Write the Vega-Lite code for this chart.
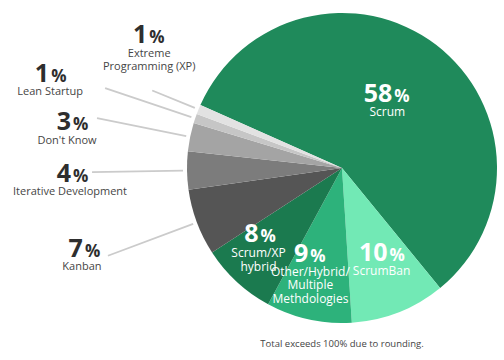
{
  "$schema": "https://vega.github.io/schema/vega-lite/v6.json",
  "width": 324,
  "height": 336,
  "autosize": {"type": "none"},
  "padding": {"left": 180, "top": 0, "right": 0, "bottom": 24},
  "background": "white",
  "config": {"view": {"stroke": null}, "font": "Open Sans", "text": {"font": "Open Sans"}},
  "title": {"text": "Total exceeds 100% due to rounding.", "orient": "bottom", "anchor": "middle", "fontSize": 9.5, "fontWeight": "normal", "color": "#444444", "font": "Open Sans", "offset": -101},
  "data": {"values": [
    {"rank": 1, "method": "Scrum", "pct": 58},
    {"rank": 2, "method": "ScrumBan", "pct": 10},
    {"rank": 3, "method": "Other/Hybrid/\nMultiple\nMethdologies", "pct": 9},
    {"rank": 4, "method": "Scrum/XP\nhybrid", "pct": 8},
    {"rank": 5, "method": "Kanban", "pct": 7},
    {"rank": 6, "method": "Iterative Development", "pct": 4},
    {"rank": 7, "method": "Don't Know", "pct": 3},
    {"rank": 8, "method": "Lean Startup", "pct": 1},
    {"rank": 9, "method": "Extreme\nProgramming (XP)", "pct": 1}
  ]},
  "encoding": {
    "theta": {"field": "pct", "type": "quantitative", "stack": true, "scale": {"range": [5.13127, 11.41445], "nice": false, "zero": true}},
    "order": {"field": "rank", "type": "quantitative", "sort": "ascending"},
    "detail": {"field": "rank", "type": "ordinal"}
  },
  "layer": [
    {"mark": {"type": "arc", "outerRadius": 155},
     "encoding": {"color": {"field": "rank", "type": "ordinal", "legend": null,
       "scale": {"domain": [1,2,3,4,5,6,7,8,9], "range": ["#1f8a5b","#72e9b5","#2db27b","#1b7a4f","#555555","#7c7c7c","#a4a4a4","#c6c6c6","#e2e2e2"]}}}},
    {"transform": [
       {"stack": "pct", "groupby": [], "sort": [{"field": "rank", "order": "ascending"}], "as": ["s0", "s1"]},
       {"filter": "datum.rank >= 5 && datum.rank <= 8"}],
     "mark": {"type": "arc", "innerRadius": 159, "outerRadius": 250, "padAngle": 2, "fill": "transparent", "stroke": "#cbcbcb", "strokeWidth": 1.8},
     "encoding": {"theta": {"field": "s0", "type": "quantitative"}, "theta2": {"field": "s1"}}},
    {"transform": [
       {"stack": "pct", "groupby": [], "sort": [{"field": "rank", "order": "ascending"}], "as": ["s0", "s1"]},
       {"filter": "datum.rank === 9"}],
     "mark": {"type": "arc", "innerRadius": 159, "outerRadius": 205, "padAngle": 2, "fill": "transparent", "stroke": "#cbcbcb", "strokeWidth": 1.8},
     "encoding": {"theta": {"field": "s0", "type": "quantitative"}, "theta2": {"field": "s1"}}},

    {"mark": {"type": "text", "radius": 83, "align": "right", "baseline": "alphabetic", "dx": 0, "dy": 0, "fontSize": 25, "fontWeight": "bold", "color": "#ffffff"},
     "encoding": {"text": {"condition": {"test": "datum.rank === 1", "field": "pct", "type": "quantitative"}, "value": ""}}},
    {"mark": {"type": "text", "radius": 83, "align": "left", "baseline": "alphabetic", "dx": 2, "dy": 0, "fontSize": 17, "fontWeight": "bold", "color": "#ffffff"},
     "encoding": {"text": {"condition": {"test": "datum.rank === 1", "value": "%"}, "value": ""}}},
    {"mark": {"type": "text", "radius": 83, "align": "center", "baseline": "alphabetic", "dx": -5, "dy": 14, "fontSize": 12, "lineBreak": "\n", "lineHeight": 13.5, "color": "#ffffff"},
     "encoding": {"text": {"condition": {"test": "datum.rank === 1", "field": "method", "type": "nominal"}, "value": ""}}},

    {"mark": {"type": "text", "radius": 100, "align": "right", "baseline": "alphabetic", "dx": 9, "dy": 0, "fontSize": 25, "fontWeight": "bold", "color": "#ffffff"},
     "encoding": {"text": {"condition": {"test": "datum.rank === 2", "field": "pct", "type": "quantitative"}, "value": ""}}},
    {"mark": {"type": "text", "radius": 100, "align": "left", "baseline": "alphabetic", "dx": 11, "dy": 0, "fontSize": 17, "fontWeight": "bold", "color": "#ffffff"},
     "encoding": {"text": {"condition": {"test": "datum.rank === 2", "value": "%"}, "value": ""}}},
    {"mark": {"type": "text", "radius": 100, "align": "center", "baseline": "alphabetic", "dx": 3, "dy": 14, "fontSize": 12, "lineBreak": "\n", "lineHeight": 13.5, "color": "#ffffff"},
     "encoding": {"text": {"condition": {"test": "datum.rank === 2", "field": "method", "type": "nominal"}, "value": ""}}},

    {"mark": {"type": "text", "radius": 96, "align": "right", "baseline": "alphabetic", "dx": -13, "dy": 0, "fontSize": 25, "fontWeight": "bold", "color": "#ffffff"},
     "encoding": {"text": {"condition": {"test": "datum.rank === 3", "field": "pct", "type": "quantitative"}, "value": ""}}},
    {"mark": {"type": "text", "radius": 96, "align": "left", "baseline": "alphabetic", "dx": -11, "dy": 0, "fontSize": 17, "fontWeight": "bold", "color": "#ffffff"},
     "encoding": {"text": {"condition": {"test": "datum.rank === 3", "value": "%"}, "value": ""}}},
    {"mark": {"type": "text", "radius": 96, "align": "center", "baseline": "alphabetic", "dx": -11, "dy": 14, "fontSize": 12, "lineBreak": "\n", "lineHeight": 13.5, "color": "#ffffff"},
     "encoding": {"text": {"condition": {"test": "datum.rank === 3", "field": "method", "type": "nominal"}, "value": ""}}},

    {"mark": {"type": "text", "radius": 101, "align": "right", "baseline": "alphabetic", "dx": -15, "dy": 0, "fontSize": 25, "fontWeight": "bold", "color": "#ffffff"},
     "encoding": {"text": {"condition": {"test": "datum.rank === 4", "field": "pct", "type": "quantitative"}, "value": ""}}},
    {"mark": {"type": "text", "radius": 101, "align": "left", "baseline": "alphabetic", "dx": -13, "dy": 0, "fontSize": 17, "fontWeight": "bold", "color": "#ffffff"},
     "encoding": {"text": {"condition": {"test": "datum.rank === 4", "value": "%"}, "value": ""}}},
    {"mark": {"type": "text", "radius": 101, "align": "center", "baseline": "alphabetic", "dx": -15, "dy": 15, "fontSize": 12, "lineBreak": "\n", "lineHeight": 13.5, "color": "#ffffff"},
     "encoding": {"text": {"condition": {"test": "datum.rank === 4", "field": "method", "type": "nominal"}, "value": ""}}},

    {"mark": {"type": "text", "radius": 250, "align": "right", "baseline": "alphabetic", "dx": -25, "dy": 1, "fontSize": 25, "fontWeight": "bold", "color": "#2e2e2e"},
     "encoding": {"text": {"condition": {"test": "datum.rank === 5", "field": "pct", "type": "quantitative"}, "value": ""}}},
    {"mark": {"type": "text", "radius": 250, "align": "left", "baseline": "alphabetic", "dx": -23, "dy": 1, "fontSize": 17, "fontWeight": "bold", "color": "#2e2e2e"},
     "encoding": {"text": {"condition": {"test": "datum.rank === 5", "value": "%"}, "value": ""}}},
    {"mark": {"type": "text", "radius": 250, "align": "center", "baseline": "alphabetic", "dx": -26, "dy": 14, "fontSize": 11, "lineBreak": "\n", "lineHeight": 13, "color": "#454545"},
     "encoding": {"text": {"condition": {"test": "datum.rank === 5", "field": "method", "type": "nominal"}, "value": ""}}},

    {"mark": {"type": "text", "radius": 250, "align": "right", "baseline": "alphabetic", "dx": -21, "dy": 10, "fontSize": 25, "fontWeight": "bold", "color": "#2e2e2e"},
     "encoding": {"text": {"condition": {"test": "datum.rank === 6", "field": "pct", "type": "quantitative"}, "value": ""}}},
    {"mark": {"type": "text", "radius": 250, "align": "left", "baseline": "alphabetic", "dx": -19, "dy": 10, "fontSize": 17, "fontWeight": "bold", "color": "#2e2e2e"},
     "encoding": {"text": {"condition": {"test": "datum.rank === 6", "value": "%"}, "value": ""}}},
    {"mark": {"type": "text", "radius": 250, "align": "center", "baseline": "alphabetic", "dx": -22, "dy": 23, "fontSize": 11, "lineBreak": "\n", "lineHeight": 13, "color": "#454545"},
     "encoding": {"text": {"condition": {"test": "datum.rank === 6", "field": "method", "type": "nominal"}, "value": ""}}},

    {"mark": {"type": "text", "radius": 250, "align": "right", "baseline": "alphabetic", "dx": -26, "dy": 12, "fontSize": 25, "fontWeight": "bold", "color": "#2e2e2e"},
     "encoding": {"text": {"condition": {"test": "datum.rank === 7", "field": "pct", "type": "quantitative"}, "value": ""}}},
    {"mark": {"type": "text", "radius": 250, "align": "left", "baseline": "alphabetic", "dx": -24, "dy": 12, "fontSize": 17, "fontWeight": "bold", "color": "#2e2e2e"},
     "encoding": {"text": {"condition": {"test": "datum.rank === 7", "value": "%"}, "value": ""}}},
    {"mark": {"type": "text", "radius": 250, "align": "center", "baseline": "alphabetic", "dx": -30, "dy": 26, "fontSize": 11, "lineBreak": "\n", "lineHeight": 13, "color": "#454545"},
     "encoding": {"text": {"condition": {"test": "datum.rank === 7", "field": "method", "type": "nominal"}, "value": ""}}},

    {"mark": {"type": "text", "radius": 250, "align": "right", "baseline": "alphabetic", "dx": -56, "dy": -6, "fontSize": 25, "fontWeight": "bold", "color": "#2e2e2e"},
     "encoding": {"text": {"condition": {"test": "datum.rank === 8", "field": "pct", "type": "quantitative"}, "value": ""}}},
    {"mark": {"type": "text", "radius": 250, "align": "left", "baseline": "alphabetic", "dx": -54, "dy": -6, "fontSize": 17, "fontWeight": "bold", "color": "#2e2e2e"},
     "encoding": {"text": {"condition": {"test": "datum.rank === 8", "value": "%"}, "value": ""}}},
    {"mark": {"type": "text", "radius": 250, "align": "center", "baseline": "alphabetic", "dx": -55, "dy": 7, "fontSize": 11, "lineBreak": "\n", "lineHeight": 13, "color": "#454545"},
     "encoding": {"text": {"condition": {"test": "datum.rank === 8", "field": "method", "type": "nominal"}, "value": ""}}},

    {"mark": {"type": "text", "radius": 205, "align": "right", "baseline": "alphabetic", "dx": -5, "dy": -47, "fontSize": 25, "fontWeight": "bold", "color": "#2e2e2e"},
     "encoding": {"text": {"condition": {"test": "datum.rank === 9", "field": "pct", "type": "quantitative"}, "value": ""}}},
    {"mark": {"type": "text", "radius": 205, "align": "left", "baseline": "alphabetic", "dx": -3, "dy": -47, "fontSize": 17, "fontWeight": "bold", "color": "#2e2e2e"},
     "encoding": {"text": {"condition": {"test": "datum.rank === 9", "value": "%"}, "value": ""}}},
    {"mark": {"type": "text", "radius": 205, "align": "center", "baseline": "alphabetic", "dx": -3, "dy": -33, "fontSize": 11, "lineBreak": "\n", "lineHeight": 13, "color": "#454545"},
     "encoding": {"text": {"condition": {"test": "datum.rank === 9", "field": "method", "type": "nominal"}, "value": ""}}}
  ]
}
